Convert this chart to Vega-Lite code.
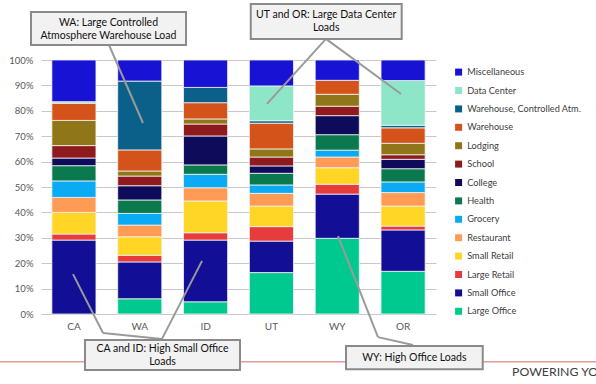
{
  "$schema": "https://vega.github.io/schema/vega-lite/v6.json",
  "width": 395,
  "height": 254,
  "autosize": "none",
  "padding": {"left": 41, "top": 60, "right": 160, "bottom": 70},
  "background": "white",
  "config": {"view": {"stroke": null}, "font": "Lato"},
  "datasets": {
    "types": [
      {"t": "Large Office", "rank": 1},
      {"t": "Small Office", "rank": 2},
      {"t": "Large Retail", "rank": 3},
      {"t": "Small Retail", "rank": 4},
      {"t": "Restaurant", "rank": 5},
      {"t": "Grocery", "rank": 6},
      {"t": "Health", "rank": 7},
      {"t": "College", "rank": 8},
      {"t": "School", "rank": 9},
      {"t": "Lodging", "rank": 10},
      {"t": "Warehouse", "rank": 11},
      {"t": "Warehouse, Controlled Atm.", "rank": 12},
      {"t": "Data Center", "rank": 13},
      {"t": "Miscellaneous", "rank": 14}
    ],
    "loads": [
      {"s": "CA", "t": "Small Office", "v": 29.1},
      {"s": "CA", "t": "Large Retail", "v": 2.4},
      {"s": "CA", "t": "Small Retail", "v": 8.5},
      {"s": "CA", "t": "Restaurant", "v": 5.9},
      {"s": "CA", "t": "Grocery", "v": 6.5},
      {"s": "CA", "t": "Health", "v": 6.0},
      {"s": "CA", "t": "College", "v": 3.0},
      {"s": "CA", "t": "School", "v": 4.9},
      {"s": "CA", "t": "Lodging", "v": 9.9},
      {"s": "CA", "t": "Warehouse", "v": 6.8},
      {"s": "CA", "t": "Data Center", "v": 0.6},
      {"s": "CA", "t": "Miscellaneous", "v": 16.4},
      {"s": "WA", "t": "Large Office", "v": 6.0},
      {"s": "WA", "t": "Small Office", "v": 14.5},
      {"s": "WA", "t": "Large Retail", "v": 2.6},
      {"s": "WA", "t": "Small Retail", "v": 7.3},
      {"s": "WA", "t": "Restaurant", "v": 4.6},
      {"s": "WA", "t": "Grocery", "v": 4.6},
      {"s": "WA", "t": "Health", "v": 5.3},
      {"s": "WA", "t": "College", "v": 5.6},
      {"s": "WA", "t": "School", "v": 3.8},
      {"s": "WA", "t": "Lodging", "v": 2.0},
      {"s": "WA", "t": "Warehouse", "v": 8.3},
      {"s": "WA", "t": "Warehouse, Controlled Atm.", "v": 27.1},
      {"s": "WA", "t": "Miscellaneous", "v": 8.3},
      {"s": "ID", "t": "Large Office", "v": 4.8},
      {"s": "ID", "t": "Small Office", "v": 24.3},
      {"s": "ID", "t": "Large Retail", "v": 2.9},
      {"s": "ID", "t": "Small Retail", "v": 12.5},
      {"s": "ID", "t": "Restaurant", "v": 5.2},
      {"s": "ID", "t": "Grocery", "v": 5.3},
      {"s": "ID", "t": "Health", "v": 3.7},
      {"s": "ID", "t": "College", "v": 11.4},
      {"s": "ID", "t": "School", "v": 4.7},
      {"s": "ID", "t": "Lodging", "v": 2.0},
      {"s": "ID", "t": "Warehouse", "v": 6.4},
      {"s": "ID", "t": "Warehouse, Controlled Atm.", "v": 6.0},
      {"s": "ID", "t": "Miscellaneous", "v": 10.8},
      {"s": "UT", "t": "Large Office", "v": 16.3},
      {"s": "UT", "t": "Small Office", "v": 12.4},
      {"s": "UT", "t": "Large Retail", "v": 5.7},
      {"s": "UT", "t": "Small Retail", "v": 8.1},
      {"s": "UT", "t": "Restaurant", "v": 5.0},
      {"s": "UT", "t": "Grocery", "v": 3.3},
      {"s": "UT", "t": "Health", "v": 4.6},
      {"s": "UT", "t": "College", "v": 2.9},
      {"s": "UT", "t": "School", "v": 3.5},
      {"s": "UT", "t": "Lodging", "v": 3.2},
      {"s": "UT", "t": "Warehouse", "v": 10.1},
      {"s": "UT", "t": "Warehouse, Controlled Atm.", "v": 1.0},
      {"s": "UT", "t": "Data Center", "v": 13.7},
      {"s": "UT", "t": "Miscellaneous", "v": 10.2},
      {"s": "WY", "t": "Large Office", "v": 29.8},
      {"s": "WY", "t": "Small Office", "v": 17.4},
      {"s": "WY", "t": "Large Retail", "v": 3.9},
      {"s": "WY", "t": "Small Retail", "v": 6.5},
      {"s": "WY", "t": "Restaurant", "v": 4.2},
      {"s": "WY", "t": "Grocery", "v": 2.7},
      {"s": "WY", "t": "Health", "v": 6.1},
      {"s": "WY", "t": "College", "v": 7.5},
      {"s": "WY", "t": "School", "v": 3.7},
      {"s": "WY", "t": "Lodging", "v": 4.7},
      {"s": "WY", "t": "Warehouse", "v": 5.5},
      {"s": "WY", "t": "Miscellaneous", "v": 8.0},
      {"s": "OR", "t": "Large Office", "v": 16.8},
      {"s": "OR", "t": "Small Office", "v": 16.3},
      {"s": "OR", "t": "Large Retail", "v": 1.5},
      {"s": "OR", "t": "Small Retail", "v": 7.9},
      {"s": "OR", "t": "Restaurant", "v": 5.3},
      {"s": "OR", "t": "Grocery", "v": 4.2},
      {"s": "OR", "t": "Health", "v": 5.2},
      {"s": "OR", "t": "College", "v": 3.7},
      {"s": "OR", "t": "School", "v": 1.8},
      {"s": "OR", "t": "Lodging", "v": 4.5},
      {"s": "OR", "t": "Warehouse", "v": 6.1},
      {"s": "OR", "t": "Warehouse, Controlled Atm.", "v": 1.0},
      {"s": "OR", "t": "Data Center", "v": 17.6},
      {"s": "OR", "t": "Miscellaneous", "v": 8.1}
    ],
    "boxes": [
      {"x": -0.152, "x2": 2.203, "y": 1.189, "y2": 1.059},
      {"x": 3.186, "x2": 5.479, "y": 1.22, "y2": 1.083},
      {"x": 0.668, "x2": 3.023, "y": -0.102, "y2": -0.22},
      {"x": 4.633, "x2": 6.71, "y": -0.126, "y2": -0.218}
    ],
    "notes": [
      {"x": 1.025, "y": 1.147, "label": "WA: Large Controlled\nAtmosphere Warehouse Load"},
      {"x": 4.332, "y": 1.176, "label": "UT and OR: Large Data Center\nLoads"},
      {"x": 1.846, "y": -0.139, "label": "CA and ID: High Small Office\nLoads"},
      {"x": 5.671, "y": -0.172, "label": "WY: High Office Loads"}
    ],
    "links": [
      {"x": 1.033, "y": 1.059, "x2": 1.549, "y2": 0.752},
      {"x": 4.329, "y": 1.083, "x2": 3.433, "y2": 0.827},
      {"x": 4.329, "y": 1.083, "x2": 5.469, "y2": 0.866},
      {"x": 0.486, "y": 0.157, "x2": 0.942, "y2": -0.075},
      {"x": 0.942, "y": -0.075, "x2": 1.838, "y2": -0.098},
      {"x": 1.838, "y": -0.098, "x2": 2.446, "y2": 0.209},
      {"x": 4.512, "y": 0.307, "x2": 5.119, "y2": -0.091},
      {"x": 5.119, "y": -0.091, "x2": 5.651, "y2": -0.122}
    ],
    "divider": [{"x": -0.63, "x2": 8.45, "y": -0.188}],
    "footer": [{"x": 7.155, "y": -0.23, "label": "POWERING YOUR FUTURE"}]
  },
  "layer": [
    {
      "data": {"name": "loads"},
      "transform": [
        {"lookup": "t", "from": {"data": {"name": "types"}, "key": "t", "fields": ["rank"]}}
      ],
      "mark": {"type": "bar", "stroke": "#f4f4f4", "strokeWidth": 0.8},
      "encoding": {
        "x": {
          "field": "s", "type": "nominal",
          "sort": ["CA", "WA", "ID", "UT", "WY", "OR"],
          "scale": {"paddingInner": 0.33, "paddingOuter": 0.165},
          "axis": {"title": null, "labelAngle": 0, "domain": false, "ticks": false, "labelFontSize": 10, "labelColor": "#595959", "labelPadding": 7, "labelFont": "Lato"}
        },
        "y": {
          "field": "v", "type": "quantitative", "stack": "normalize",
          "scale": {"domain": [0, 1]},
          "axis": {"title": null, "format": ".0%", "values": [0, 0.1, 0.2, 0.3, 0.4, 0.5, 0.6, 0.7, 0.8, 0.9, 1], "domain": false, "ticks": false, "grid": true, "gridColor": "#c8c8cc", "gridWidth": 1.2, "labelFontSize": 9.5, "labelColor": "#595959", "labelPadding": 8, "labelFont": "Lato"}
        },
        "color": {
          "field": "t", "type": "nominal",
          "scale": {
            "domain": ["Miscellaneous", "Data Center", "Warehouse, Controlled Atm.", "Warehouse", "Lodging", "School", "College", "Health", "Grocery", "Restaurant", "Small Retail", "Large Retail", "Small Office", "Large Office"],
            "range": ["#1712d4", "#8ee6c9", "#0b6089", "#d4531a", "#8f7618", "#8e1a1e", "#0e0c5a", "#0a7a4e", "#0aaaf5", "#ff9b55", "#ffd526", "#e63c3c", "#120e96", "#00c98f"]
          },
          "legend": {
            "title": null, "orient": "none", "legendX": 413, "legendY": 7.5,
            "symbolType": "square", "symbolSize": 49, "symbolStrokeWidth": 0,
            "labelFontSize": 9.2, "labelColor": "#404040", "labelFont": "Lato",
            "rowPadding": 8.4, "labelOffset": 4, "padding": 0
          }
        },
        "order": {"field": "rank", "type": "quantitative"}
      }
    },
    {
      "layer": [
        {
          "data": {"name": "divider"},
          "mark": {"type": "rule", "color": "#e79a9a", "strokeWidth": 1.5},
          "encoding": {
            "x": {"field": "x", "type": "quantitative", "scale": {"domain": [0, 6], "nice": false, "zero": false}, "axis": null},
            "x2": {"field": "x2"},
            "y": {"field": "y", "type": "quantitative", "scale": {"domain": [0, 1], "nice": false, "zero": false}, "axis": null}
          }
        },
        {
          "data": {"name": "links"},
          "mark": {"type": "rule", "color": "#9a9a9a", "strokeWidth": 2},
          "encoding": {
            "x": {"field": "x", "type": "quantitative", "scale": {"domain": [0, 6], "nice": false, "zero": false}, "axis": null},
            "x2": {"field": "x2"},
            "y": {"field": "y", "type": "quantitative", "scale": {"domain": [0, 1], "nice": false, "zero": false}, "axis": null},
            "y2": {"field": "y2"}
          }
        },
        {
          "data": {"name": "boxes"},
          "mark": {"type": "rect", "fill": "#f2f2f2", "stroke": "#8a8a8a", "strokeWidth": 2},
          "encoding": {
            "x": {"field": "x", "type": "quantitative", "scale": {"domain": [0, 6], "nice": false, "zero": false}, "axis": null},
            "x2": {"field": "x2"},
            "y": {"field": "y", "type": "quantitative", "scale": {"domain": [0, 1], "nice": false, "zero": false}, "axis": null},
            "y2": {"field": "y2"}
          }
        },
        {
          "data": {"name": "notes"},
          "mark": {"type": "text", "lineBreak": "\n", "align": "center", "baseline": "middle", "fontSize": 10.5, "font": "Lato", "color": "#111111", "lineHeight": 13},
          "encoding": {
            "x": {"field": "x", "type": "quantitative", "scale": {"domain": [0, 6], "nice": false, "zero": false}, "axis": null},
            "y": {"field": "y", "type": "quantitative", "scale": {"domain": [0, 1], "nice": false, "zero": false}, "axis": null},
            "text": {"field": "label"}
          }
        },
        {
          "data": {"name": "footer"},
          "mark": {"type": "text", "align": "left", "baseline": "middle", "fontSize": 12.3, "font": "Lato", "color": "#404040"},
          "encoding": {
            "x": {"field": "x", "type": "quantitative", "scale": {"domain": [0, 6], "nice": false, "zero": false}, "axis": null},
            "y": {"field": "y", "type": "quantitative", "scale": {"domain": [0, 1], "nice": false, "zero": false}, "axis": null},
            "text": {"field": "label"}
          }
        }
      ]
    }
  ],
  "resolve": {"scale": {"x": "independent", "y": "independent", "color": "independent"}}
}
